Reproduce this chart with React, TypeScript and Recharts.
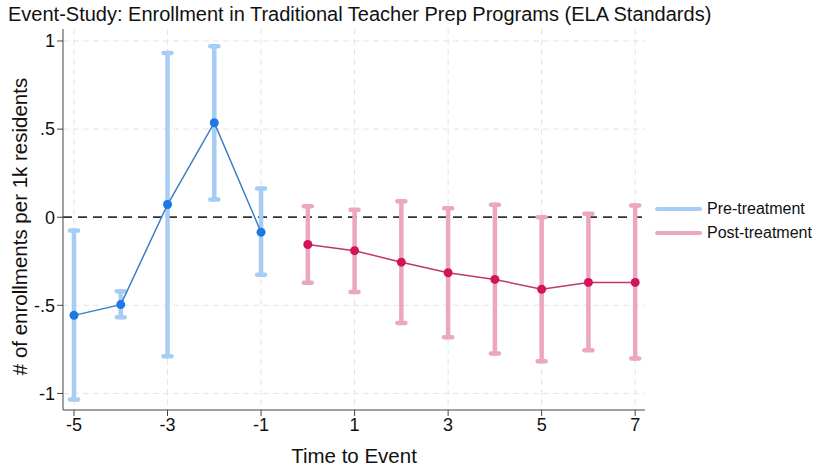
import React from "react";
import {
  ComposedChart,
  Line,
  ErrorBar,
  XAxis,
  YAxis,
  CartesianGrid,
  ReferenceLine,
} from "recharts";

// event-time estimates with 95% CI bounds
const preTimes = [-5, -4, -3, -2, -1];
const preEst = [-0.557, -0.496, 0.072, 0.536, -0.085];
const preLow = [-1.034, -0.567, -0.789, 0.101, -0.326];
const preHigh = [-0.075, -0.42, 0.932, 0.97, 0.163];

const postTimes = [0, 1, 2, 3, 4, 5, 6, 7];
const postEst = [-0.155, -0.19, -0.255, -0.315, -0.353, -0.409, -0.37, -0.37];
const postLow = [-0.372, -0.425, -0.6, -0.681, -0.774, -0.817, -0.755, -0.802];
const postHigh = [0.062, 0.042, 0.091, 0.051, 0.07, 0.0, 0.019, 0.066];

const xTicks = [-5, -3, -1, 1, 3, 5, 7];
const yTicks = [-1, -0.5, 0, 0.5, 1];

const FONT = "'Liberation Sans', Arial, Helvetica, sans-serif";
const PRE_CI = "#a6cdf3";
const PRE_LINE = "#3b7fc6";
const PRE_DOT = "#1f77e4";
const POST_CI = "#eca7c0";
const POST_LINE = "#c0376b";
const POST_DOT = "#d3145b";

function buildRows(times: number[], est: number[], low: number[], high: number[]) {
  return times.map((t, i) => ({
    t,
    est: est[i],
    err: [est[i] - low[i], high[i] - est[i]],
  }));
}

const preRows = buildRows(preTimes, preEst, preLow, preHigh);
const postRows = buildRows(postTimes, postEst, postLow, postHigh);

function fmtY(v: number) {
  if (v === 0) return "0";
  const s = String(Math.abs(v)).replace(/^0\./, ".");
  return v < 0 ? "-" + s : s;
}

function YLabel({ viewBox }: any) {
  const cy = viewBox.y + viewBox.height / 2 + 7;
  return (
    <text
      x={27}
      y={cy}
      transform={`rotate(-90, 27, ${cy})`}
      textAnchor="middle"
      fontSize={20.5}
      fill="#111"
      fontFamily={FONT}
    >
      # of enrollments per 1k residents
    </text>
  );
}

function XLabel({ viewBox }: any) {
  const cx = viewBox.x + viewBox.width / 2;
  return (
    <text x={cx} y={viewBox.y + 53} textAnchor="middle" fontSize={20.5} fill="#111" fontFamily={FONT}>
      Time to Event
    </text>
  );
}

function LegendItem({ color, label }: { color: string; label: string }) {
  return (
    <div style={{ display: "flex", alignItems: "center", height: 24 }}>
      <svg width={52} height={10}>
        <line x1={4} y1={5} x2={47} y2={5} stroke={color} strokeWidth={4} strokeLinecap="round" />
      </svg>
      <span style={{ fontSize: 16, color: "#111", marginLeft: 2 }}>{label}</span>
    </div>
  );
}

export default function App() {
  return (
    <div
      style={{
        position: "absolute",
        left: 0,
        top: 0,
        width: 817,
        height: 470,
        background: "#fff",
        fontFamily: FONT,
      }}
    >
      <div style={{ position: "absolute", left: 8, top: 3, fontSize: 20, color: "#111" }}>
        Event-Study: Enrollment in Traditional Teacher Prep Programs (ELA Standards)
      </div>
      <ComposedChart width={817} height={470} margin={{ top: 29, right: 172, bottom: 30, left: 0 }}>
        <CartesianGrid
          stroke="#e4e4e4"
          strokeDasharray="6 4"
          horizontalValues={[-1, -0.5, 0.5, 1]}
          verticalValues={xTicks}
        />
        <XAxis
          type="number"
          dataKey="t"
          domain={[-5.235, 7.21]}
          ticks={xTicks}
          allowDataOverflow
          tickSize={6}
          stroke="#444"
          tick={{ fontSize: 18, fill: "#111", fontFamily: FONT }}
          height={30}
          label={<XLabel />}
        />
        <YAxis
          type="number"
          domain={[-1.094, 1.068]}
          ticks={yTicks}
          allowDataOverflow
          tickFormatter={fmtY}
          tickSize={6}
          stroke="#444"
          width={63}
          tick={{ fontSize: 18, fill: "#111", fontFamily: FONT }}
          label={<YLabel />}
        />
        <ReferenceLine y={0} stroke="#333" strokeWidth={1.8} strokeDasharray="9 6" />
        {/* CI bars drawn first so the point estimate line sits on top */}
        <Line
          data={preRows}
          dataKey="est"
          stroke="none"
          dot={false}
          activeDot={false}
          isAnimationActive={false}
        >
          <ErrorBar dataKey="err" width={4} stroke={PRE_CI} strokeWidth={4.5} strokeLinecap="round" />
        </Line>
        <Line
          data={postRows}
          dataKey="est"
          stroke="none"
          dot={false}
          activeDot={false}
          isAnimationActive={false}
        >
          <ErrorBar dataKey="err" width={4} stroke={POST_CI} strokeWidth={4.5} strokeLinecap="round" />
        </Line>
        <Line
          data={preRows}
          dataKey="est"
          stroke={PRE_LINE}
          strokeWidth={1.5}
          dot={{ r: 4.5, fill: PRE_DOT, stroke: PRE_DOT, strokeWidth: 0 }}
          activeDot={false}
          isAnimationActive={false}
        />
        <Line
          data={postRows}
          dataKey="est"
          stroke={POST_LINE}
          strokeWidth={1.5}
          dot={{ r: 4.5, fill: POST_DOT, stroke: POST_DOT, strokeWidth: 0 }}
          activeDot={false}
          isAnimationActive={false}
        />
      </ComposedChart>
      <div style={{ position: "absolute", left: 653, top: 197 }}>
        <LegendItem color={PRE_CI} label="Pre-treatment" />
        <LegendItem color={POST_CI} label="Post-treatment" />
      </div>
    </div>
  );
}
